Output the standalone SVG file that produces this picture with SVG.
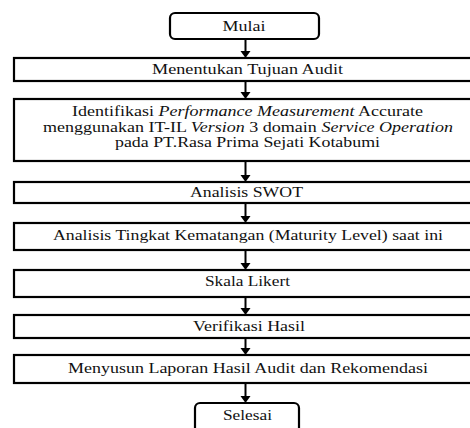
<svg xmlns="http://www.w3.org/2000/svg" width="470" height="428" viewBox="0 0 470 428">
<style>
.box{fill:#fff;stroke:#000;stroke-width:2.2}
.term{fill:#fff;stroke:#000;stroke-width:2.2}
.t{font-family:'Liberation Serif','Times New Roman',serif;font-size:14.5px;fill:#111;text-anchor:middle}
.i{font-style:italic}
.ln{stroke:#000;stroke-width:2}
.hd{fill:#000}
</style>
<rect width="470" height="428" fill="#fff"/>
<g id="connectors">
<line class="ln" x1="245.5" y1="39" x2="245.5" y2="53"/>
<path class="hd" d="M240.5,51 L250.5,51 L245.5,58 Z"/>
<line class="ln" x1="245.5" y1="81" x2="245.5" y2="94"/>
<path class="hd" d="M240.5,92 L250.5,92 L245.5,99 Z"/>
<line class="ln" x1="245.5" y1="161" x2="245.5" y2="177"/>
<path class="hd" d="M240.5,175 L250.5,175 L245.5,182 Z"/>
<line class="ln" x1="245.5" y1="203" x2="245.5" y2="218"/>
<path class="hd" d="M240.5,216 L250.5,216 L245.5,223 Z"/>
<line class="ln" x1="245.5" y1="250" x2="245.5" y2="265"/>
<path class="hd" d="M240.5,263 L250.5,263 L245.5,270 Z"/>
<line class="ln" x1="245.5" y1="297" x2="245.5" y2="310"/>
<path class="hd" d="M240.5,308 L250.5,308 L245.5,315 Z"/>
<line class="ln" x1="245.5" y1="338" x2="245.5" y2="350"/>
<path class="hd" d="M240.5,348 L250.5,348 L245.5,355 Z"/>
<line class="ln" x1="245.5" y1="383" x2="245.5" y2="398"/>
<path class="hd" d="M240.5,396 L250.5,396 L245.5,403 Z"/>
</g>
<g id="mulai">
<rect class="term" x="170" y="13" width="149" height="26" rx="5"/>
<text class="t" x="244" y="31" textLength="43" lengthAdjust="spacingAndGlyphs">Mulai</text>
</g>
<g id="tujuan">
<rect class="box" x="14" y="58" width="470" height="23"/>
<text class="t" x="247.5" y="74" textLength="191" lengthAdjust="spacingAndGlyphs">Menentukan Tujuan Audit</text>
</g>
<g id="identifikasi">
<rect class="box" x="14" y="99" width="470" height="62"/>
<text class="t" x="247.5" y="116" textLength="351" lengthAdjust="spacingAndGlyphs">Identifikasi <tspan class="i">Performance Measurement</tspan> Accurate</text>
<text class="t" x="248" y="131.5" textLength="410" lengthAdjust="spacingAndGlyphs">menggunakan IT-IL <tspan class="i">Version</tspan> 3 domain <tspan class="i">Service Operation</tspan></text>
<text class="t" x="247.5" y="147" textLength="265" lengthAdjust="spacingAndGlyphs">pada PT.Rasa Prima Sejati Kotabumi</text>
</g>
<g id="swot">
<rect class="box" x="14" y="182" width="470" height="21"/>
<text class="t" x="246.5" y="197" textLength="113" lengthAdjust="spacingAndGlyphs">Analisis SWOT</text>
</g>
<g id="maturity">
<rect class="box" x="14" y="223" width="470" height="27"/>
<text class="t" x="248" y="239.5" textLength="390" lengthAdjust="spacingAndGlyphs">Analisis Tingkat Kematangan (Maturity Level) saat ini</text>
</g>
<g id="likert">
<rect class="box" x="14" y="270" width="470" height="27"/>
<text class="t" x="247.5" y="285.5" textLength="85" lengthAdjust="spacingAndGlyphs">Skala Likert</text>
</g>
<g id="verifikasi">
<rect class="box" x="14" y="315" width="470" height="23"/>
<text class="t" x="249" y="330.5" textLength="112" lengthAdjust="spacingAndGlyphs">Verifikasi Hasil</text>
</g>
<g id="laporan">
<rect class="box" x="14" y="355" width="470" height="28"/>
<text class="t" x="248" y="373" textLength="360" lengthAdjust="spacingAndGlyphs">Menyusun Laporan Hasil Audit dan Rekomendasi</text>
</g>
<g id="selesai">
<rect class="term" x="195" y="403" width="104" height="32" rx="5"/>
<text class="t" x="247.5" y="420" textLength="49" lengthAdjust="spacingAndGlyphs">Selesai</text>
</g>
</svg>
